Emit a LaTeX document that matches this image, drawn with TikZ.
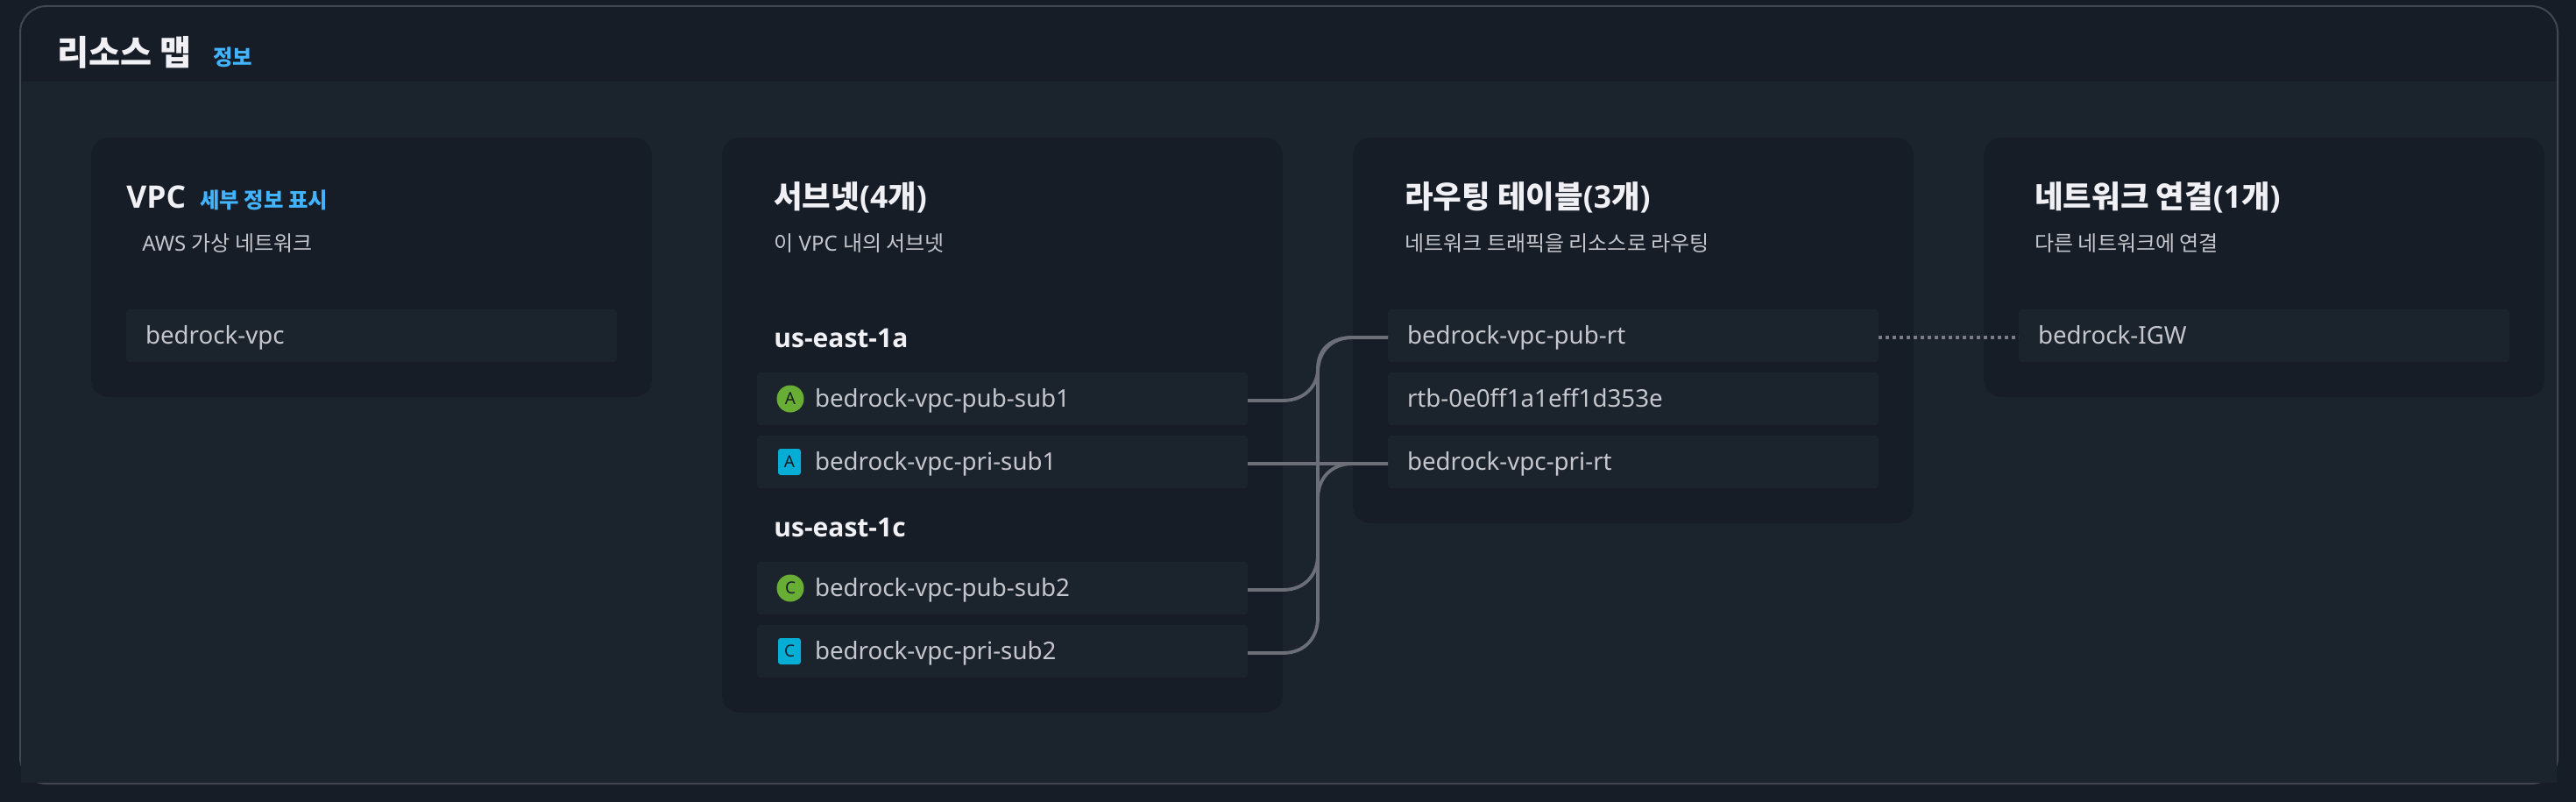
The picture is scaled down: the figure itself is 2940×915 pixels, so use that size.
\documentclass[tikz,border=0pt]{standalone}
\usepackage{fontspec}
\setmainfont{Noto Sans}[BoldFont={Open Sans Bold}]
\newfontfamily\krfont{Noto Sans CJK KR}
\newcommand{\kr}[1]{{\krfont #1}}
\definecolor{pagebg}{HTML}{161D26}
\definecolor{bodybg}{HTML}{1B232D}
\definecolor{edgecol}{HTML}{424650}
\definecolor{titlecol}{HTML}{F0F0F5}
\definecolor{subcol}{HTML}{C6C6CD}
\definecolor{linkcol}{HTML}{42B4FF}
\definecolor{wirecol}{HTML}{6C6E78}
\definecolor{dotcol}{HTML}{7A7C86}
\definecolor{pubgreen}{HTML}{69AE34}
\definecolor{priteal}{HTML}{06AED5}
\tikzset{
    card/.style={anchor=north west,fill=pagebg,rounded corners=10pt,minimum width=320pt,inner sep=0pt,outer sep=0pt},
    rowbox/.style={anchor=north west,fill=bodybg,rounded corners=2pt,minimum height=30pt,inner ysep=0pt,outer sep=0pt,
        inner xsep=11pt,text width=258pt,align=left,text height=12pt,text depth=3pt,text=subcol,font=\fontsize{13.85pt}{16pt}\selectfont},
    subrow/.style={rowbox,inner xsep=33pt,text width=214pt},
    heading/.style={anchor=base west,inner sep=0pt,text=titlecol,font=\fontsize{17.7pt}{20pt}\selectfont\bfseries},
    zonehead/.style={heading,font=\fontsize{15pt}{18pt}\selectfont\bfseries},
    subtext/.style={anchor=base west,inner sep=0pt,text=subcol,font=\fontsize{12pt}{14pt}\selectfont},
    infolink/.style={anchor=base west,inner sep=0pt,text=linkcol,font=\fontsize{12.2pt}{14pt}\selectfont\bfseries},
    pubbadge/.style={circle,fill=pubgreen,minimum size=15.5pt,inner sep=0pt,text=pagebg,font=\fontsize{9.5pt}{10pt}\selectfont},
    pribadge/.style={rectangle,rounded corners=1.5pt,fill=priteal,minimum width=13pt,minimum height=15pt,inner sep=0pt,text=pagebg,font=\fontsize{9.5pt}{10pt}\selectfont},
    wire/.style={draw=wirecol,line width=1.9pt},
    dotwire/.style={draw=dotcol,line width=1.75pt,dash pattern=on 2pt off 2pt}
}
\begin{document}
\begin{tikzpicture}[x=0.5pt,y=-0.5pt]
    \useasboundingbox (0,0) rectangle (2940,915);
    \fill[pagebg] (0,0) rectangle (2940,915);
    \draw[edgecol,line width=1pt,rounded corners=15pt] (23,7) rectangle (2919,894);
    \fill[bodybg] (24,93) rectangle (2918,893);

    \node[heading,font=\fontsize{19.6pt}{24pt}\selectfont\bfseries\krfont] (maptitle) at (65,75) {리소스 맵};
    \node[infolink,font=\fontsize{12.2pt}{14pt}\selectfont\bfseries\krfont] (mapinfo) at (243,75) {정보};

    \node[card,minimum height=148pt] (vpccard) at (104,157) {};
    \node[card,minimum height=328pt] (subcard) at (824,157) {};
    \node[card,minimum height=220pt] (rtcard) at (1544,157) {};
    \node[card,minimum height=148pt] (netcard) at (2264,157) {};

    \node[heading] (vpctitle) at (144,237) {VPC};
    \node[infolink] (vpcinfo) at (228,237) {\kr{세부 정보 표시}};
    \node[subtext] (vpcsub) at (162,286) {AWS \kr{가상 네트워크}};
    \node[rowbox] (vpcrow) at (144,353) {bedrock-vpc};

    \node[heading] (subtitle) at (883,237) {\kr{서브넷}(4\kr{개})};
    \node[subtext] (subsub) at (883,286) {\kr{이} VPC \kr{내의 서브넷}};
    \node[zonehead] (zonea) at (883,396) {us-east-1a};
    \node[subrow] (pubsuba) at (864,425) {bedrock-vpc-pub-sub1};
    \node[subrow] (prisuba) at (864,497) {bedrock-vpc-pri-sub1};
    \node[zonehead] (zonec) at (883,612) {us-east-1c};
    \node[subrow] (pubsubc) at (864,641) {bedrock-vpc-pub-sub2};
    \node[subrow] (prisubc) at (864,713) {bedrock-vpc-pri-sub2};
    \node[pubbadge] (badgepa) at ([xshift=19pt]pubsuba.west) {A};
    \node[pribadge] (badgera) at ([xshift=18.5pt]prisuba.west) {A};
    \node[pubbadge] (badgepc) at ([xshift=19pt]pubsubc.west) {C};
    \node[pribadge] (badgerc) at ([xshift=18.5pt]prisubc.west) {C};

    \node[heading] (rttitle) at (1603,237) {\kr{라우팅 테이블}(3\kr{개})};
    \node[subtext] (rtsub) at (1603,286) {\kr{네트워크 트래픽을 리소스로 라우팅}};
    \node[rowbox] (pubrt) at (1584,353) {bedrock-vpc-pub-rt};
    \node[rowbox] (idrt) at (1584,425) {rtb-0e0ff1a1eff1d353e};
    \node[rowbox] (prirt) at (1584,497) {bedrock-vpc-pri-rt};

    \node[heading] (nettitle) at (2322,237) {\kr{네트워크 연결}(1\kr{개})};
    \node[subtext] (netsub) at (2322,286) {\kr{다른 네트워크에 연결}};
    \node[rowbox] (igwrow) at (2304,353) {bedrock-IGW};

    \draw[wire] ([yshift=-1pt]pubsuba.east)--++(40,0)..controls +(26,0) and +(0,18)..++(40,-36)
        ..controls +(0,-22) and +(-26,0)..++(40,-36)--([yshift=-1pt]pubrt.west);
    \draw[wire] ([yshift=-1pt]prisuba.east)--([yshift=-1pt]prirt.west);
    \draw[wire] ([yshift=-1pt]pubsubc.east)--++(40,0)..controls +(26,0) and +(0,22)..++(40,-40)--++(0,-208)
        ..controls +(0,-22) and +(-26,0)..++(40,-40)--([yshift=-1pt]pubrt.west);
    \draw[wire] ([yshift=-1pt]prisubc.east)--++(40,0)..controls +(26,0) and +(0,22)..++(40,-40)--++(0,-136)
        ..controls +(0,-22) and +(-26,0)..++(40,-40)--([yshift=-1pt]prirt.west);
    \draw[dotwire] ([yshift=-1pt]pubrt.east)--([yshift=-1pt]igwrow.west);
\end{tikzpicture}
\end{document}
